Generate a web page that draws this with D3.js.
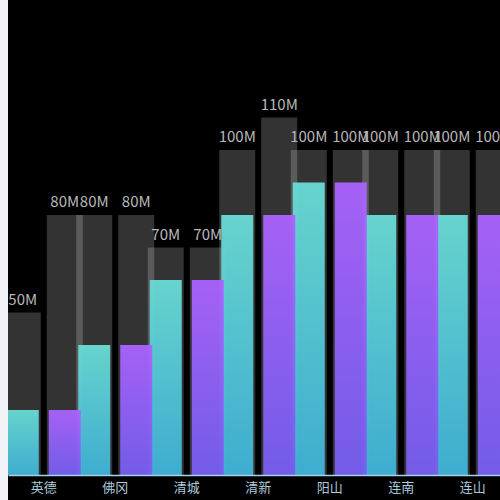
<!DOCTYPE html>
<html lang="zh">
<head>
  <meta charset="UTF-8">
  <title>bars</title>
  <script src="https://d3js.org/d3.v7.min.js"></script>
  <style>
    body { margin: 0; background: #f2f3f9; }
    svg { position: absolute; left: 8px; top: 0; background: #000; display: block; }
    .cap { font-family: "Noto Sans CJK SC", "Noto Sans", sans-serif; font-size: 15px; fill: #b8b8b8; }
    .tick text { font-family: "Noto Sans CJK SC", sans-serif; font-size: 13px; fill: #adcbd9; }
  </style>
</head>
<body>
  <svg></svg>
  <script>
    const categories = ["英德", "佛冈", "清城", "清新", "阳山", "连南", "连山"];
    const seriesNames = ["a", "b"];
    const valuesA = [20, 40, 60, 80, 90, 80, 80];
    const valuesB = [20, 40, 60, 80, 90, 80, 80];
    const totalA = [50, 80, 70, 100, 100, 100, 100];
    const totalB = [80, 80, 70, 110, 100, 100, 100];

    const width = 492, height = 500;
    const svg = d3.select("svg").attr("width", width).attr("height", height);

    const x = d3.scaleBand().domain(categories).range([0, 500.5]).padding(0);
    const xs = d3.scalePoint().domain(seriesNames).range([-21, 21]);
    const y = d3.scaleLinear().domain([0, 100]).range([475, 150]);

    const defs = svg.append("defs");
    function grad(id, top, bottom) {
      const g = defs.append("linearGradient").attr("id", id)
        .attr("x1", 0).attr("y1", 0).attr("x2", 0).attr("y2", 1);
      g.append("stop").attr("offset", "0%").attr("stop-color", top);
      g.append("stop").attr("offset", "100%").attr("stop-color", bottom);
    }
    grad("gA", "#69dcd5", "#3fb3d8");
    grad("gB", "#ab63ff", "#765ef1");

    const rows = [];
    categories.forEach((c, i) => {
      rows.push({ cat: c, s: "a", v: valuesA[i], t: totalA[i], fill: "url(#gA)" });
      rows.push({ cat: c, s: "b", v: valuesB[i], t: totalB[i], fill: "url(#gB)" });
    });
    const cx = d => x(d.cat) + x.bandwidth() / 2 + xs(d.s);

    // grey background bars
    svg.selectAll(".bg").data(rows).enter().append("rect")
      .attr("class", "bg")
      .attr("x", d => cx(d) - 18).attr("width", 36)
      .attr("y", d => y(d.t)).attr("height", d => y(0) - y(d.t))
      .attr("fill", "rgba(255,255,255,0.2)");

    // value bars, cyan first then purple
    svg.selectAll(".bar").data(rows.filter(d => d.s == "a").concat(rows.filter(d => d.s == "b")))
      .enter().append("rect")
      .attr("class", "bar")
      .attr("x", d => cx(d) - 16).attr("width", 32)
      .attr("y", d => y(d.v)).attr("height", d => y(0) - y(d.v))
      .attr("fill", d => d.fill)
      .attr("opacity", 0.95);

    svg.selectAll(".cap").data(rows).enter().append("text")
      .attr("class", "cap")
      .attr("x", d => cx(d)).attr("y", d => y(d.t) - 8)
      .attr("text-anchor", "middle")
      .text(d => d.t + "M");

    const axis = svg.append("g").attr("transform", "translate(0,475)")
      .call(d3.axisBottom(x).tickSize(0).tickPadding(8));
    axis.select(".domain").attr("stroke", "#a5d3e6").attr("stroke-width", 1.5);
  </script>
</body>
</html>
